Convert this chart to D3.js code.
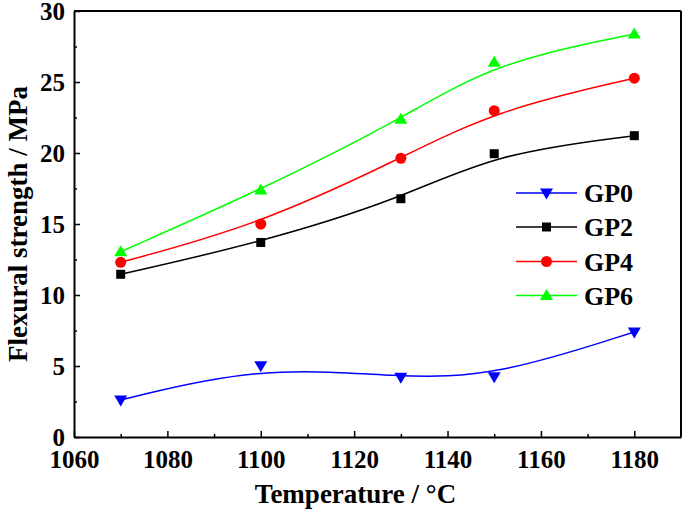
<!DOCTYPE html>
<html>
<head>
<meta charset="utf-8">
<script src="https://cdn.jsdelivr.net/npm/d3@7"></script>
<style>
  body { margin: 0; background: #fff; }
  svg { display: block; }
  text { font-family: "Liberation Serif", "Times New Roman", serif; font-weight: bold; fill: #000; }
</style>
</head>
<body>
<svg id="chart" width="685" height="512"></svg>
<script>
const temperatures = [1070, 1100, 1130, 1150, 1180];
const gp0 = [2.6, 5.02, 4.2, 4.25, 7.4];
const gp2 = [11.46, 13.7, 16.78, 19.95, 21.22];
const gp4 = [12.3, 15.0, 19.63, 22.98, 25.27];
const gp6 = [13.05, 17.4, 22.37, 26.39, 28.38];
const seriesNames = ["GP0", "GP2", "GP4", "GP6"];
const xTickValues = [1060, 1080, 1100, 1120, 1140, 1160, 1180];
const yTickValues = [0, 5, 10, 15, 20, 25, 30];

const series = [
  { name: seriesNames[0], values: gp0, color: "#0000ff", symbol: "down" },
  { name: seriesNames[1], values: gp2, color: "#000000", symbol: "square" },
  { name: seriesNames[2], values: gp4, color: "#ff0000", symbol: "circle" },
  { name: seriesNames[3], values: gp6, color: "#00ff00", symbol: "up" }
];

const svg = d3.select("#chart");
const L = 74, R = 681, T = 11, B = 437;
const x = d3.scaleLinear().domain([1060, 1190]).range([L, R]);
const y = d3.scaleLinear().domain([0, 30]).range([B, T]);

// minor ticks
svg.append("g").attr("transform", `translate(0,${B})`)
  .call(d3.axisBottom(x).tickValues(d3.range(1070, 1190, 20)).tickFormat("").tickSizeInner(-3).tickSizeOuter(0))
  .call(g => g.select(".domain").remove())
  .call(g => g.selectAll("line").attr("stroke-width", 1.5));
svg.append("g").attr("transform", `translate(${L},0)`)
  .call(d3.axisLeft(y).tickValues(d3.range(2.5, 30, 5)).tickFormat("").tickSizeInner(-3).tickSizeOuter(0))
  .call(g => g.select(".domain").remove())
  .call(g => g.selectAll("line").attr("stroke-width", 1.5));

// major axes
const xAxis = svg.append("g").attr("transform", `translate(0,${B})`)
  .call(d3.axisBottom(x).tickValues(xTickValues).tickFormat(d3.format("d")).tickSizeInner(-6).tickSizeOuter(0).tickPadding(13));
xAxis.selectAll("text").attr("font-size", 25).style("font-family", "Liberation Serif").style("font-weight", "bold");
const yAxis = svg.append("g").attr("transform", `translate(${L},0)`)
  .call(d3.axisLeft(y).tickValues(yTickValues).tickFormat(d3.format("d")).tickSizeInner(-6).tickSizeOuter(0).tickPadding(9));
yAxis.selectAll("text").attr("font-size", 25).style("font-family", "Liberation Serif").style("font-weight", "bold");
svg.selectAll(".domain").attr("stroke-width", 2);
svg.selectAll(".tick line").attr("stroke-width", 1.5);

// top and right frame
svg.append("line").attr("x1", L).attr("x2", R).attr("y1", T).attr("y2", T).attr("stroke", "#000").attr("stroke-width", 2);
svg.append("line").attr("x1", R).attr("x2", R).attr("y1", T).attr("y2", B).attr("stroke", "#000").attr("stroke-width", 2);

// axis titles
svg.append("text").attr("x", (L + R) / 2 - 22).attr("y", 503).attr("text-anchor", "middle")
  .attr("font-size", 27).text("Temperature / \u00B0C");
svg.append("text").attr("transform", `translate(27,${(T + B) / 2}) rotate(-90)`).attr("text-anchor", "middle")
  .attr("font-size", 27).text("Flexural strength / MPa");

function marker(sel, symbol, color) {
  if (symbol === "square") {
    sel.append("rect").attr("x", -4.5).attr("y", -4.5).attr("width", 9).attr("height", 9).attr("fill", color);
  } else if (symbol === "circle") {
    sel.append("circle").attr("r", 5.5).attr("fill", color);
  } else if (symbol === "up") {
    sel.append("path").attr("d", "M0,-6.5L6.5,4.5L-6.5,4.5Z").attr("fill", color);
  } else {
    sel.append("path").attr("d", "M0,6.5L6.5,-4.5L-6.5,-4.5Z").attr("fill", color);
  }
}

const line = d3.line().x(d => x(d[0])).y(d => y(d[1])).curve(d3.curveBasis);

series.forEach(s => {
  const pts = temperatures.map((t, i) => [t, s.values[i]]);
  svg.append("path").datum(pts).attr("d", line).attr("fill", "none")
    .attr("stroke", s.color).attr("stroke-width", 1.5);
  pts.forEach(p => {
    const g = svg.append("g").attr("transform", `translate(${x(p[0])},${y(p[1])})`);
    marker(g, s.symbol, s.color);
  });
});

// legend
const legendY = [193, 227, 261.5, 295.5];
series.forEach((s, i) => {
  const g = svg.append("g").attr("transform", `translate(0,${legendY[i]})`);
  g.append("line").attr("x1", 516).attr("x2", 577).attr("stroke", s.color).attr("stroke-width", 1.5);
  const m = g.append("g").attr("transform", "translate(546.5,0)");
  marker(m, s.symbol, s.color);
  g.append("text").attr("x", 584).attr("dy", "0.35em").attr("font-size", 26).text(s.name);
});
</script>
</body>
</html>
